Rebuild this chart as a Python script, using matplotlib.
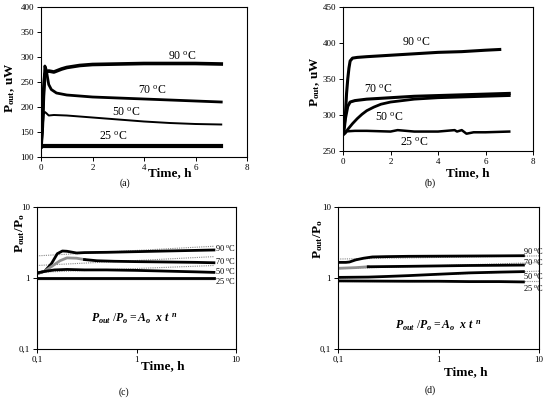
import matplotlib
matplotlib.use("Agg")
import matplotlib.pyplot as plt
from matplotlib.ticker import FixedLocator, NullLocator, FixedFormatter

plt.rcParams['font.family'] = ['Liberation Serif', 'DejaVu Serif']
plt.rcParams['mathtext.fontset'] = 'custom'
plt.rcParams['mathtext.rm'] = 'Liberation Serif'
plt.rcParams['mathtext.bf'] = 'Liberation Serif:bold'
plt.rcParams['mathtext.it'] = 'Liberation Serif:italic:bold'

# ---------------- data ----------------
# (a)
t_a90 = [0, 0.05, 0.1, 0.15, 0.2, 0.3, 0.5, 0.8, 1.0, 1.5, 2, 3, 4, 5, 6, 7]
p_a90 = [120, 160, 230, 265, 270, 272, 270, 276, 279, 283, 285, 286, 287, 287, 287, 286]
t_a70 = [0, 0.05, 0.1, 0.15, 0.2, 0.25, 0.3, 0.4, 0.6, 1.0, 2, 3, 4, 5, 6, 7]
p_a70 = [120, 150, 220, 282, 275, 260, 245, 235, 228, 224, 220, 218, 216, 214, 212, 210]
t_a50 = [0, 0.05, 0.1, 0.15, 0.2, 0.3, 0.5, 1, 1.5, 2, 3, 4, 5, 6, 7]
p_a50 = [120, 150, 185, 190, 188, 183, 184, 183, 181, 179, 175, 171, 168, 166, 165]
t_a25 = [0, 1, 2, 3, 4, 5, 6, 7]
p_a25 = [122, 122, 122, 122, 122, 122, 122, 122]

# (b)
t_b90 = [0, 0.05, 0.1, 0.15, 0.2, 0.25, 0.3, 0.4, 0.6, 1, 2, 3, 4, 5, 6, 6.6]
p_b90 = [280, 285, 300, 330, 350, 365, 375, 379, 380, 381, 383, 385, 387, 388, 390, 391]
t_b70 = [0, 0.05, 0.1, 0.2, 0.3, 0.5, 1, 2, 3, 4, 5, 6, 7]
p_b70 = [275, 280, 295, 312, 318, 320, 322, 324, 326, 327, 328, 329, 330]
t_b50 = [0, 0.1, 0.2, 0.4, 0.6, 0.8, 1.0, 1.3, 1.6, 2, 2.5, 3, 4, 5, 6, 7]
p_b50 = [272, 275, 280, 288, 295, 301, 306, 311, 315, 318, 320, 322, 324, 325, 326, 327]
t_b25 = [0, 0.5, 1, 2, 2.3, 3, 4, 4.7, 4.8, 5.0, 5.2, 5.5, 6, 7]
p_b25 = [277, 278, 278, 277, 279, 277, 277, 279, 277, 279, 274, 276, 276, 277]

# (c)  log-log normalised
t_c90 = [0.1, 0.12, 0.14, 0.16, 0.18, 0.2, 0.25, 0.3, 0.5, 1, 2, 4, 6]
r_c90 = [1.15, 1.25, 1.6, 2.2, 2.4, 2.38, 2.25, 2.28, 2.3, 2.35, 2.4, 2.45, 2.48]
t_c70 = [0.1, 0.12, 0.14, 0.17, 0.2, 0.25, 0.3, 0.4, 0.6, 1, 2, 4, 6]
r_c70 = [1.15, 1.25, 1.45, 1.75, 1.92, 1.9, 1.82, 1.75, 1.72, 1.7, 1.68, 1.66, 1.64]
t_c50 = [0.1, 0.12, 0.15, 0.2, 0.3, 0.5, 1, 2, 4, 6]
r_c50 = [1.18, 1.24, 1.3, 1.32, 1.3, 1.3, 1.28, 1.25, 1.22, 1.2]
t_c25 = [0.1, 0.5, 1, 2, 6]
r_c25 = [1.0, 1.0, 1.0, 1.0, 1.0]
t_cfit = [0.1, 6.0]
f_c90 = [2.05, 2.8]
f_c70 = [1.5, 2.0]
f_c50 = [1.2, 1.5]
f_c25 = [0.97, 0.97]

# (d)
t_d90 = [0.1, 0.12, 0.13, 0.15, 0.18, 0.22, 0.3, 0.5, 1, 2, 4, 7]
r_d90 = [1.66, 1.66, 1.68, 1.8, 1.9, 1.98, 2.0, 2.02, 2.03, 2.04, 2.05, 2.06]
t_d70 = [0.1, 0.15, 0.2, 0.5, 1, 2, 4, 7]
r_d70 = [1.37, 1.4, 1.44, 1.46, 1.48, 1.5, 1.51, 1.52]
t_d50 = [0.1, 0.2, 0.3, 0.5, 1, 2, 4, 7]
r_d50 = [1.02, 1.03, 1.05, 1.08, 1.13, 1.18, 1.21, 1.23]
t_d25 = [0.1, 0.5, 1, 2, 4, 7]
r_d25 = [0.91, 0.9, 0.9, 0.89, 0.89, 0.88]
t_dfit = [0.1, 10]
f_d90 = [1.85, 2.05]
f_d70 = [1.35, 1.65]
f_d50 = [1.0, 1.25]
f_d25 = [0.9, 0.9]

temps = ['90', '70', '50', '25']
lin_ticks = [0, 2, 4, 6, 8]
log_ticks = [0.1, 1, 10]
log_labels = ['0,1', '1', '10']

# ---------------- figure ----------------
W, H = 550, 398
fig = plt.figure(figsize=(5.5, 3.98), dpi=100)

def box(l, t, r, b):
    return [l / W, 1 - b / H, (r - l) / W, (b - t) / H]

def style(ax):
    for s in ax.spines.values():
        s.set_linewidth(0.8)
    ax.tick_params(direction='out', length=3, width=0.7, labelsize=6.5, pad=2)

def deg(t):
    return t + r' $^{\mathrm{o}}$C'

ax_a = fig.add_axes(box(41, 7, 247, 157))
ax_b = fig.add_axes(box(343, 7, 533, 151))
ax_c = fig.add_axes(box(37, 207, 236, 349))
ax_d = fig.add_axes(box(338, 207, 539, 349))

# (a)
ax_a.plot(t_a90, p_a90, color='black', lw=2.6)
ax_a.plot(t_a70, p_a70, color='black', lw=2.0)
ax_a.plot(t_a50, p_a50, color='black', lw=1.4)
ax_a.plot(t_a25, p_a25, color='black', lw=3.0)
ax_a.set_xlim(0, 8); ax_a.set_ylim(100, 400)
ax_a.xaxis.set_major_locator(FixedLocator(lin_ticks))
ax_a.yaxis.set_major_locator(FixedLocator([100, 150, 200, 250, 300, 350, 400]))
style(ax_a)
for txt, x, y in zip(temps, [5.5, 4.3, 3.3, 2.8], [300, 232, 188, 140]):
    ax_a.text(x, y, deg(txt), fontsize=8.5, ha='center', va='center')

# (b)
ax_b.plot(t_b90, p_b90, color='black', lw=2.2)
ax_b.plot(t_b70, p_b70, color='black', lw=2.2)
ax_b.plot(t_b50, p_b50, color='black', lw=2.0)
ax_b.plot(t_b25, p_b25, color='black', lw=1.8)
ax_b.set_xlim(0, 8); ax_b.set_ylim(250, 450)
ax_b.xaxis.set_major_locator(FixedLocator(lin_ticks))
ax_b.yaxis.set_major_locator(FixedLocator([250, 300, 350, 400, 450]))
style(ax_b)
for txt, x, y in zip(temps, [3.1, 1.5, 1.95, 3.0], [400, 335, 296, 262]):
    ax_b.text(x, y, deg(txt), fontsize=8.5, ha='center', va='center')

# (c)
for f in [f_c90, f_c70, f_c50]:
    ax_c.plot(t_cfit, f, color='#888888', lw=0.8, ls=(0, (1, 1)))
ax_c.plot(t_cfit, f_c25, color='#999999', lw=1.0)
ax_c.plot(t_c90, r_c90, color='black', lw=2.0)
ax_c.plot(t_c70[:7], r_c70[:7], color='#909090', lw=2.0)
ax_c.plot(t_c70[6:], r_c70[6:], color='black', lw=2.0)
ax_c.plot(t_c50, r_c50, color='black', lw=2.0)
ax_c.plot(t_c25, r_c25, color='black', lw=2.0)
for txt, y in zip(temps, [2.62, 1.76, 1.25, 0.9]):
    ax_c.text(6.1, y, deg(txt), fontsize=6, ha='left', va='center', clip_on=False)

# (d)
for f in [f_d90, f_d70, f_d50, f_d25]:
    ax_d.plot(t_dfit, f, color='#888888', lw=0.8, ls=(0, (1, 1)))
ax_d.plot(t_d90, r_d90, color='black', lw=2.0)
ax_d.plot(t_d70[:3], r_d70[:3], color='#909090', lw=2.0)
ax_d.plot(t_d70[2:], r_d70[2:], color='black', lw=2.0)
ax_d.plot(t_d50, r_d50, color='black', lw=2.0)
ax_d.plot(t_d25, r_d25, color='black', lw=2.0)
for txt, y in zip(temps, [2.4, 1.68, 1.07, 0.72]):
    ax_d.text(8.8, y, deg(txt), fontsize=6, ha='center', va='center', clip_on=False)

for ax in (ax_c, ax_d):
    ax.set_xscale('log'); ax.set_yscale('log')
    ax.set_xlim(0.1, 10); ax.set_ylim(0.1, 10)
    ax.xaxis.set_major_locator(FixedLocator(log_ticks))
    ax.yaxis.set_major_locator(FixedLocator(log_ticks))
    ax.xaxis.set_major_formatter(FixedFormatter(log_labels))
    ax.yaxis.set_major_formatter(FixedFormatter(log_labels))
    ax.xaxis.set_minor_locator(NullLocator())
    ax.yaxis.set_minor_locator(NullLocator())
    style(ax)

formula = r'$P_{out}\ /P_o = A_o\ \ x\ t^{\ n}$'
fig.text(134 / W, 1 - 319 / H, formula, fontsize=8.5, ha='center', va='center')
fig.text(438 / W, 1 - 326 / H, formula, fontsize=8.5, ha='center', va='center')

# axis labels
xl = 'Time, h'
fig.text(170 / W, 1 - 173 / H, xl, fontsize=9.5, fontweight='bold', ha='center', va='center')
fig.text(468 / W, 1 - 173 / H, xl, fontsize=9.5, fontweight='bold', ha='center', va='center')
fig.text(163 / W, 1 - 366 / H, xl, fontsize=9.5, fontweight='bold', ha='center', va='center')
fig.text(466 / W, 1 - 372 / H, xl, fontsize=9.5, fontweight='bold', ha='center', va='center')

yl1 = r'$\mathbf{P_{out}}$, uW'
yl2 = r'$\mathbf{P_{out}/P_o}$'
fig.text(10 / W, 1 - 88 / H, yl1, fontsize=9.5, fontweight='bold', rotation=90, ha='center', va='center')
fig.text(315 / W, 1 - 82 / H, yl1, fontsize=9.5, fontweight='bold', rotation=90, ha='center', va='center')
fig.text(20 / W, 1 - 233 / H, yl2, fontsize=9.5, fontweight='bold', rotation=90, ha='center', va='center')
fig.text(318 / W, 1 - 239 / H, yl2, fontsize=9.5, fontweight='bold', rotation=90, ha='center', va='center')

# captions
for txt, x, y in [('(a)', 125, 183), ('(b)', 430, 183), ('(c)', 124, 392), ('(d)', 430, 390)]:
    fig.text(x / W, 1 - y / H, txt, fontsize=7, ha='center', va='center')

fig.savefig('out.png', dpi=100)
